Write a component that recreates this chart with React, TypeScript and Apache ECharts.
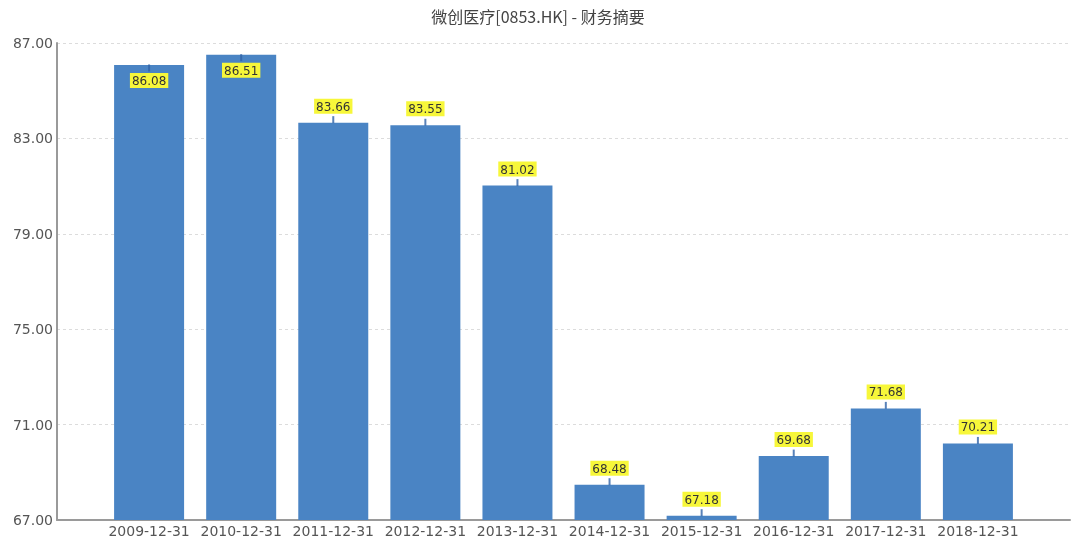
import React, { useEffect, useRef } from "react";
import * as echarts from "echarts";

const title = "微创医疗[0853.HK] - 财务摘要";
const categories = ["", "2009-12-31", "2010-12-31", "2011-12-31", "2012-12-31", "2013-12-31", "2014-12-31", "2015-12-31", "2016-12-31", "2017-12-31", "2018-12-31", ""];
const values: (number | null)[] = [null, 86.08, 86.51, 83.66, 83.55, 81.02, 68.48, 67.18, 69.68, 71.68, 70.21, null];
const axisBase = 67;
const axisTop = 87;
const axisStep = 4;
const insideLabelThreshold = 85;

export default function App() {
  const ref = useRef<HTMLDivElement>(null);
  useEffect(() => {
    if (!ref.current) return;
    const chart = echarts.init(ref.current, undefined, { renderer: "svg" });
    const barData = values.map((v) =>
      v == null
        ? null
        : {
            value: +(v - axisBase).toFixed(2),
            label: {
              position: v > insideLabelThreshold ? "insideTop" : "top",
              distance: v > insideLabelThreshold ? 8 : 9,
            },
          }
    );
    const tickData = values.map((v) =>
      v == null
        ? null
        : {
            value: +(v - axisBase).toFixed(2),
            symbolOffset: v > insideLabelThreshold ? [0, 3] : [0, -3],
          }
    );
    chart.setOption({
      animation: false,
      title: {
        text: title,
        left: "center",
        top: 3,
        textStyle: { fontSize: 16, fontWeight: "normal", color: "#444", fontFamily: "Noto Sans CJK SC" },
      },
      grid: { left: 57, right: 6, top: 43, bottom: 21, containLabel: false },
      xAxis: {
        type: "category",
        data: categories,
        boundaryGap: false,
        axisLine: { lineStyle: { color: "#9a9a9a", width: 2 } },
        axisTick: { show: false },
        axisLabel: { color: "#555", fontSize: 14, margin: 4, fontFamily: "DejaVu Sans", interval: 0 },
        splitLine: { show: false },
      },
      yAxis: {
        type: "value",
        min: 0,
        max: axisTop - axisBase,
        interval: axisStep,
        axisLine: { show: true, lineStyle: { color: "#9a9a9a", width: 2 } },
        axisTick: { show: false },
        axisLabel: {
          color: "#555",
          fontSize: 14,
          margin: 4,
          fontFamily: "DejaVu Sans",
          formatter: (v: number) => (v + axisBase).toFixed(2),
        },
        splitLine: { show: true, lineStyle: { color: "#dcdcdc", type: [3, 3] } },
      },
      series: [
        {
          type: "bar",
          data: barData,
          barWidth: 70,
          itemStyle: { color: "#4a84c4" },
          label: {
            show: true,
            formatter: (p: any) => (p.value + axisBase).toFixed(2),
            backgroundColor: "#f7f73a",
            color: "#333",
            fontSize: 12,
            fontFamily: "DejaVu Sans",
            padding: [2, 2, 1, 2],
          },
          z: 2,
        },
        {
          type: "scatter",
          data: tickData,
          symbol: "rect",
          symbolSize: [2, 7],
          itemStyle: { color: "#2f63a8" },
          silent: true,
          z: 3,
        },
      ],
    });
    return () => chart.dispose();
  }, []);
  return <div ref={ref} style={{ position: "fixed", left: 0, top: 0, width: 1076, height: 541 }} />;
}
